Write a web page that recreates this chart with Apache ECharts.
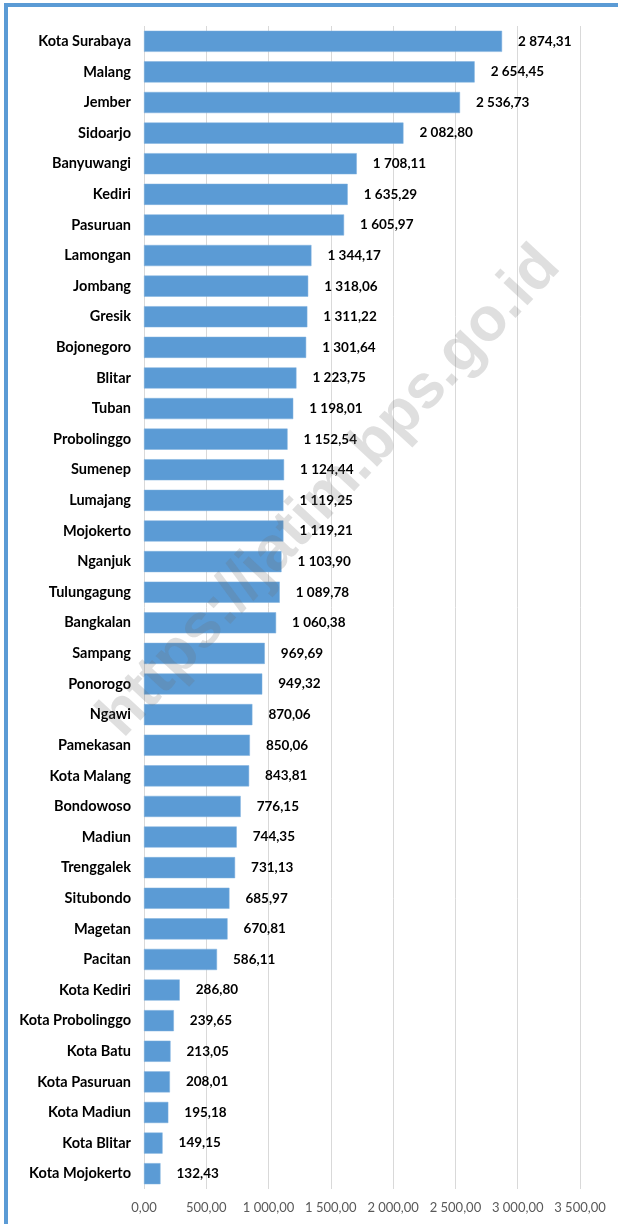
<!DOCTYPE html>
<html>
<head>
<meta charset="utf-8">
<script src="https://cdn.jsdelivr.net/npm/echarts@6/dist/echarts.min.js"></script>
<style>
html,body{margin:0;padding:0;background:#fff;}
#c{width:618px;height:1224px;}
</style>
</head>
<body>
<div id="c"></div>
<script>
const categories = ["Kota Surabaya","Malang","Jember","Sidoarjo","Banyuwangi","Kediri","Pasuruan","Lamongan","Jombang","Gresik","Bojonegoro","Blitar","Tuban","Probolinggo","Sumenep","Lumajang","Mojokerto","Nganjuk","Tulungagung","Bangkalan","Sampang","Ponorogo","Ngawi","Pamekasan","Kota Malang","Bondowoso","Madiun","Trenggalek","Situbondo","Magetan","Pacitan","Kota Kediri","Kota Probolinggo","Kota Batu","Kota Pasuruan","Kota Madiun","Kota Blitar","Kota Mojokerto"];
const values = [2874.31,2654.45,2536.73,2082.80,1708.11,1635.29,1605.97,1344.17,1318.06,1311.22,1301.64,1223.75,1198.01,1152.54,1124.44,1119.25,1119.21,1103.90,1089.78,1060.38,969.69,949.32,870.06,850.06,843.81,776.15,744.35,731.13,685.97,670.81,586.11,286.80,239.65,213.05,208.01,195.18,149.15,132.43];
const xTicks = [0,500,1000,1500,2000,2500,3000,3500];
const watermark = "https://jatim.bps.go.id";

function fmt(n){
  const s = Number(n).toFixed(2).split('.');
  const int = s[0].replace(/\B(?=(\d{3})+(?!\d))/g, ' ');
  return int + ',' + s[1];
}

const chart = echarts.init(document.getElementById('c'), null, {renderer:'canvas'});
chart.setOption({
  backgroundColor:'#ffffff',
  animation:false,
  grid:{left:144, right:38, top:26, bottom:35, containLabel:false},
  xAxis:{
    type:'value', min:xTicks[0], max:xTicks[xTicks.length-1], interval:500,
    axisLine:{show:false}, axisTick:{show:false},
    splitLine:{show:true, lineStyle:{color:'#d9d9d9', width:1}},
    axisLabel:{formatter:fmt, color:'#595959', fontFamily:'Lato', fontSize:13, margin:12}
  },
  yAxis:{
    type:'category', data:categories, inverse:true,
    axisLine:{show:false}, axisTick:{show:false},
    axisLabel:{color:'#000', fontFamily:'Lato', fontWeight:'bold', fontSize:14.5, margin:13}
  },
  series:[{
    type:'bar', data:values, barCategoryGap:'31%',
    itemStyle:{color:'#5b9bd5', borderColor:'#7fb0df', borderWidth:0.5},
    label:{show:true, position:'right', distance:16, formatter:p=>fmt(p.value),
      color:'#000', fontFamily:'Lato', fontWeight:'bold', fontSize:13.5}
  }],
  graphic:[
    {type:'rect', left:4, top:3, shape:{width:614, height:4}, style:{fill:'#5b9bd5'}, z:200},
    {type:'rect', left:4, top:3, shape:{width:4, height:1221}, style:{fill:'#5b9bd5'}, z:200},
    {type:'text', x:330, y:492, rotation:47*Math.PI/180,
     style:{text:watermark, fill:'rgba(110,110,110,0.22)', font:'bold 62px Arial, "Liberation Sans", sans-serif',
       textAlign:'center', textVerticalAlign:'middle'}, z:150}
  ]
});
</script>
</body>
</html>
